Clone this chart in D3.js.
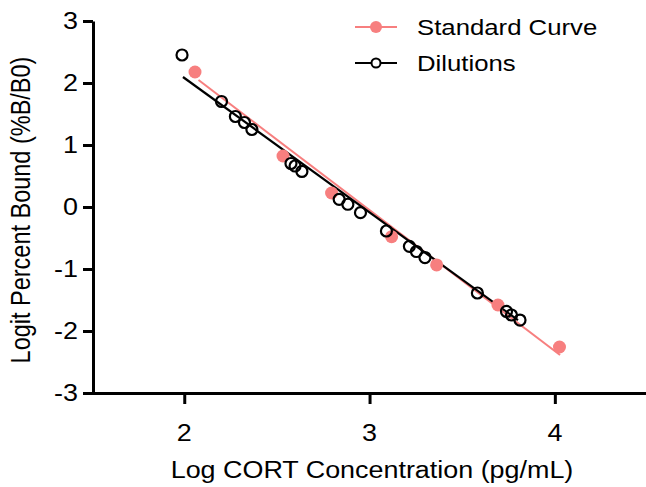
<!DOCTYPE html>
<html>
<head>
<meta charset="utf-8">
<script src="https://d3js.org/d3.v7.min.js"></script>
<style>
  body { margin: 0; background: #fff; }
  svg { display: block; }
  text { font-family: "Liberation Sans", Arial, sans-serif; fill: #000; }
</style>
</head>
<body>
<svg id="chart" width="646" height="487"></svg>
<script>
// standard curve points (log conc, logit %B/B0)
const stdX = [2.058, 2.533, 2.795, 3.119, 3.362, 3.693, 4.025]
const stdY = [2.177, 0.823, 0.226, -0.479, -0.935, -1.581, -2.258]

// dilution points
const dilX = [1.988, 2.201, 2.276, 2.325, 2.365, 2.576, 2.598, 2.635, 2.836, 2.883, 2.951,
              3.091, 3.215, 3.253, 3.299, 3.582, 3.739, 3.766, 3.812]
const dilY = [2.452, 1.702, 1.460, 1.363, 1.250, 0.702, 0.661, 0.573, 0.124, 0.044, -0.092,
              -0.387, -0.634, -0.718, -0.815, -1.387, -1.685, -1.742, -1.823]

// fitted lines, start and end
const stdFitX = [2.077, 4.028]
const stdFitY = [2.048, -2.387]
const dilFitX = [1.993, 3.801]
const dilFitY = [2.097, -1.823]

const xTicks = [2, 3, 4]
const yTicks = [-3, -2, -1, 0, 1, 2, 3]

const salmon = '#f77f7f'
const sx = 1.17 // the picture is stretched sideways a bit

const svg = d3.select('#chart')

const x = d3.scaleLinear().domain([1.5, 4.5]).range([91.6, 647.5])
const y = d3.scaleLinear().domain([-3, 3]).range([393, 21])

// axes
svg.append('g')
    .attr('transform', 'translate(93,0)')
    .call(d3.axisLeft(y).tickValues(yTicks).tickSize(10).tickSizeOuter(0))
svg.append('g')
    .attr('transform', 'translate(0,393)')
    .call(d3.axisBottom(x).tickValues(xTicks).tickSize(11).tickSizeOuter(0))

svg.selectAll('.domain').attr('stroke', '#000').attr('stroke-width', 3)
svg.selectAll('.tick line').attr('stroke', '#000').attr('stroke-width', 3)
svg.selectAll('.tick text').remove()

// tick labels drawn by hand so they can be stretched
yTicks.forEach(v => {
  svg.append('text')
      .attr('transform', `translate(78,${y(v)}) scale(${sx},1)`)
      .attr('dy', '0.36em')
      .attr('text-anchor', 'end')
      .style('font-size', '23px')
      .text(v < 0 ? '-' + Math.abs(v) : v)
})
xTicks.forEach(v => {
  svg.append('text')
      .attr('transform', `translate(${x(v)},441) scale(${sx},1)`)
      .attr('text-anchor', 'middle')
      .style('font-size', '23px')
      .text(v)
})

// axis titles
svg.append('text')
    .attr('transform', `translate(372,478) scale(${sx},1)`)
    .attr('text-anchor', 'middle')
    .style('font-size', '23px')
    .text('Log CORT Concentration (pg/mL)')

svg.append('text')
    .attr('transform', `translate(30,210) scale(${sx},1) rotate(-90)`)
    .attr('text-anchor', 'middle')
    .style('font-size', '23.5px')
    .text('Logit Percent Bound (%B/B0)')

// fit lines
const line = d3.line().x(d => x(d[0])).y(d => y(d[1]))
svg.append('path')
    .datum(d3.zip(stdFitX, stdFitY))
    .attr('d', line)
    .attr('fill', 'none')
    .attr('stroke', salmon)
    .attr('stroke-width', 2)
svg.append('path')
    .datum(d3.zip(dilFitX, dilFitY))
    .attr('d', line)
    .attr('fill', 'none')
    .attr('stroke', '#000')
    .attr('stroke-width', 2.2)

// points
svg.append('g').selectAll('circle')
    .data(d3.zip(stdX, stdY))
    .enter().append('circle')
      .attr('cx', d => x(d[0]))
      .attr('cy', d => y(d[1]))
      .attr('r', 6.5)
      .attr('fill', salmon)

svg.append('g').selectAll('circle')
    .data(d3.zip(dilX, dilY))
    .enter().append('circle')
      .attr('cx', d => x(d[0]))
      .attr('cy', d => y(d[1]))
      .attr('r', 5.5)
      .attr('fill', 'none')
      .attr('stroke', '#000')
      .attr('stroke-width', 2.2)

// legend
const legend = svg.append('g')
const items = [
  {label: 'Standard Curve', color: salmon, filled: true, y: 27},
  {label: 'Dilutions', color: '#000', filled: false, y: 63}
]
items.forEach(it => {
  legend.append('line')
      .attr('x1', 355).attr('x2', 397)
      .attr('y1', it.y).attr('y2', it.y)
      .attr('stroke', it.color).attr('stroke-width', 2)
  legend.append('circle')
      .attr('cx', 376).attr('cy', it.y)
      .attr('r', it.filled ? 6 : 4.5)
      .attr('fill', it.filled ? it.color : '#fff')
      .attr('stroke', it.filled ? 'none' : it.color)
      .attr('stroke-width', 2)
  legend.append('text')
      .attr('transform', `translate(417,${it.y}) scale(${sx},1)`)
      .attr('dy', '0.36em')
      .style('font-size', '22px')
      .text(it.label)
})
</script>
</body>
</html>
